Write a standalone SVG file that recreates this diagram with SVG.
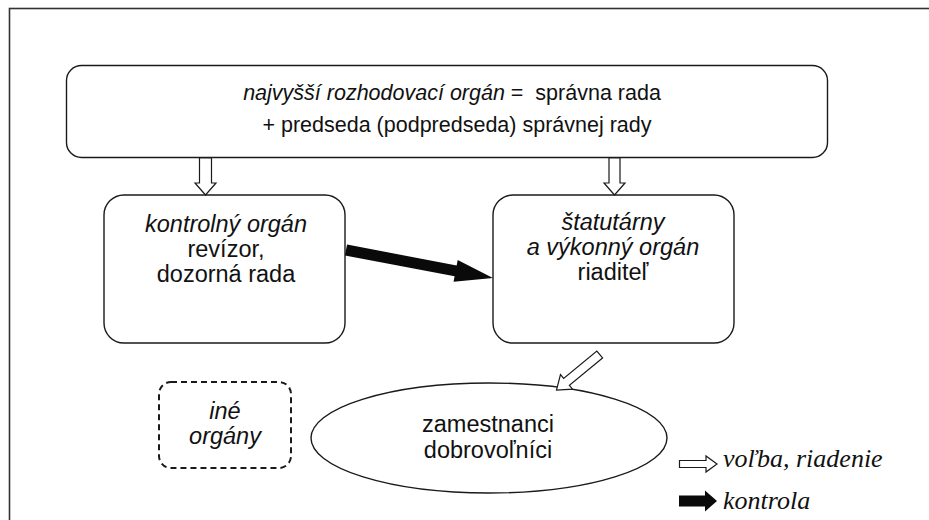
<svg xmlns="http://www.w3.org/2000/svg" width="929" height="520" viewBox="0 0 929 520">
<style>
.box{fill:#fff;stroke:#1a1a1a;stroke-width:1.4}
.dash{fill:#fff;stroke:#1a1a1a;stroke-width:2;stroke-dasharray:6 4}
.t{font-family:"Liberation Sans",Arial,sans-serif;font-size:23.5px;fill:#111;text-anchor:middle}
.tt{font-family:"Liberation Sans",Arial,sans-serif;font-size:21.5px;fill:#111;text-anchor:middle}
.i{font-style:italic}
.hollow{fill:#fff;stroke:#1a1a1a;stroke-width:1.2;stroke-linejoin:miter}
.solid{fill:#0a0a0a;stroke:none}
.leg{font-family:"Liberation Serif","Times New Roman",serif;font-style:italic;font-size:26px;fill:#111}
</style>
<rect width="929" height="520" fill="#fff"/>
<rect x="9.5" y="8.5" width="940" height="540" fill="none" stroke="#333" stroke-width="1.6"/>
<g id="top">
<rect class="box" x="66.5" y="65.5" width="761" height="92" rx="15"/>
<text class="tt" x="452" y="100" xml:space="preserve"><tspan class="i">najvyšší rozhodovací orgán</tspan> =  správna rada</text>
<text class="tt" x="457" y="132">+ predseda (podpredseda) správnej rady</text>
</g>
<g id="kontrol">
<rect class="box" x="104" y="195" width="241" height="148" rx="20"/>
<text class="t i" x="226" y="232">kontrolný orgán</text>
<text class="t" x="226" y="257">revízor,</text>
<text class="t" x="226" y="282">dozorná rada</text>
</g>
<g id="statutar">
<rect class="box" x="493" y="195" width="241" height="148" rx="20"/>
<text class="t i" x="613" y="230">štatutárny</text>
<text class="t i" x="613" y="255">a výkonný orgán</text>
<text class="t" x="613" y="280">riaditeľ</text>
</g>
<g id="ine">
<rect class="dash" x="159" y="382" width="132" height="86" rx="12"/>
<text class="t i" x="225" y="419">iné</text>
<text class="t i" x="225" y="444">orgány</text>
</g>
<g id="zamestnanci">
<ellipse class="box" cx="489" cy="438" rx="178" ry="55"/>
<text class="t" x="488" y="432">zamestnanci</text>
<text class="t" x="488" y="458">dobrovoľníci</text>
</g>
<g id="connectors">
<polygon class="hollow" points="199.5,158 211.5,158 211.5,183 216,183 205.5,195 195,183 199.5,183"/>
<polygon class="hollow" points="609,158 620,158 620,183 625,183 614.5,195 604,183 609,183"/>
<polygon class="solid" transform="translate(346,250) rotate(10.78)" points="0,-5.5 111.6,-5.5 111.6,-11 149.6,0 111.6,11 111.6,5.5 0,5.5"/>
<polygon class="hollow" transform="translate(599.7,354.5) rotate(140.5)" points="0,-4.5 43,-4.5 43,-9.5 56,0 43,9.5 43,4.5 0,4.5"/>
</g>
<g id="legend">
<polygon class="hollow" points="679.5,460.5 706,460.5 706,456 717,464 706,472 706,467.5 679.5,467.5"/>
<text class="leg" x="723" y="467">voľba, riadenie</text>
<polygon class="solid" points="679,495.5 705,495.5 705,490.5 717,501 705,511.5 705,506.5 679,506.5"/>
<text class="leg" x="723" y="509">kontrola</text>
</g>
</svg>
